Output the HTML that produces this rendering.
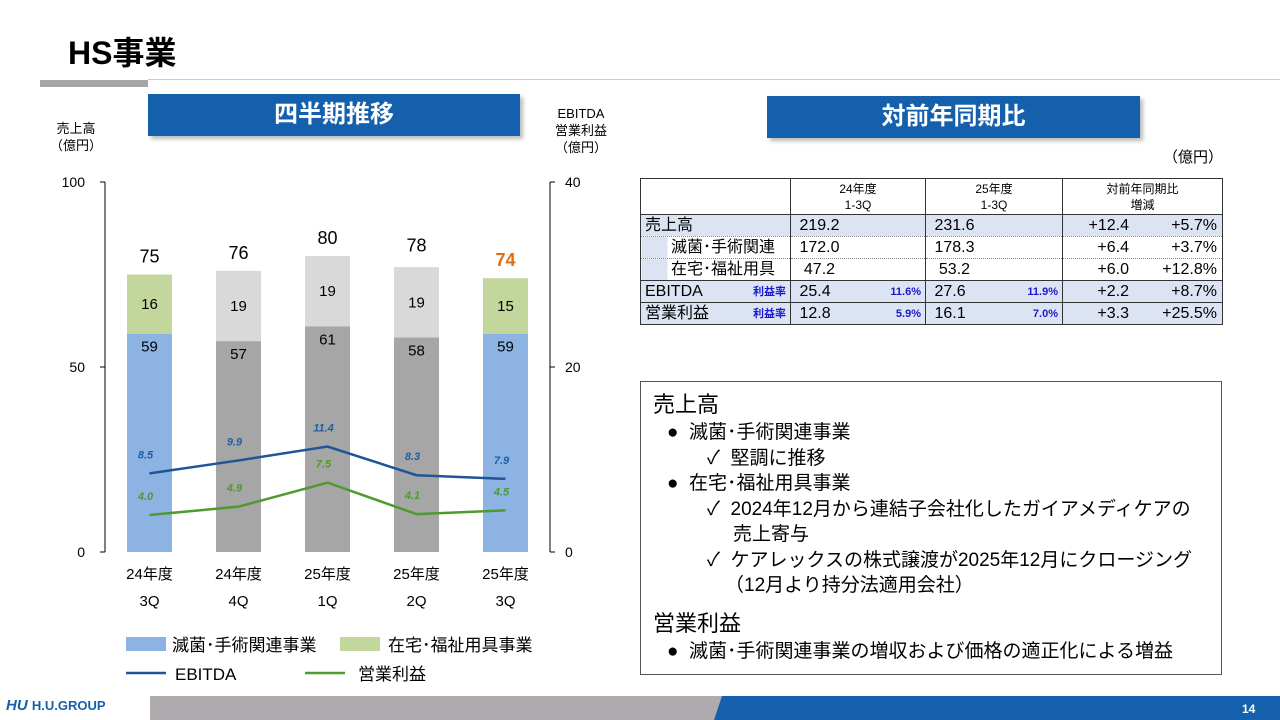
<!DOCTYPE html>
<html><head><meta charset="utf-8">
<style>
*{margin:0;padding:0;box-sizing:border-box}
body{width:1280px;height:720px;position:relative;background:#fff;font-family:"Liberation Sans","Noto Sans CJK JP",sans-serif;color:#000;overflow:hidden}
.a{position:absolute;white-space:nowrap}
.tb{position:absolute;background:#1560ad;color:#fff;font-weight:bold;font-size:24px;text-align:center;line-height:42px;box-shadow:3px 3px 4px #bbb}
table{border-collapse:collapse;font-size:16px;table-layout:fixed}
td{height:22px;line-height:20px;padding:0 4px;border-left:1px solid #333;border-right:1px solid #333;overflow:hidden}
.bl{background:#dce3f2}
.r{color:#1a1acc;font-weight:bold;font-size:11px}
</style></head><body>
<div class="a" style="left:68px;top:28px;font-size:32px;font-weight:bold">HS事業</div>
<div class="a" style="left:148px;top:79px;width:1132px;height:1px;background:#ccc"></div>
<div class="a" style="left:40px;top:80px;width:108px;height:7px;background:#a6a6a6"></div>

<div class="tb" style="left:148px;top:94px;width:372px;height:42px">四半期推移</div>
<div class="tb" style="left:767px;top:96px;width:373px;height:42px">対前年同期比</div>

<div class="a" style="left:50px;top:120px;font-size:13px;line-height:17px;text-align:center">売上高<br>（億円）</div>
<div class="a" style="left:555px;top:105px;font-size:13px;line-height:17px;text-align:center">EBITDA<br>営業利益<br>（億円）</div>

<svg class="a" style="left:0;top:0" width="640" height="700" id="chart"></svg>

<div class="a" style="left:1163px;top:146px;font-size:15px">（億円）</div>

<div class="a" style="left:640px;top:178px">
<table style="width:582px;border:1px solid #333">
<tr style="font-size:12px;text-align:center;border-bottom:1px solid #333"><td style="width:150px;height:36px"></td><td style="width:135px;line-height:16px">24年度<br>1-3Q</td><td style="width:137px;line-height:16px">25年度<br>1-3Q</td><td style="width:160px;line-height:16px">対前年同期比<br>増減</td></tr>
<tr class="bl" style="border-bottom:1px dotted #888"><td>売上高</td><td>&nbsp;219.2</td><td>&nbsp;231.6</td><td><span style="display:inline-block;width:62px;text-align:right">+12.4</span><span style="display:inline-block;width:88px;text-align:right">+5.7%</span></td></tr>
<tr style="border-bottom:1px dotted #888"><td style="padding-left:30px;background:linear-gradient(90deg,#dce3f2 26px,#fff 26px)">滅菌･手術関連</td><td>&nbsp;172.0</td><td>&nbsp;178.3</td><td><span style="display:inline-block;width:62px;text-align:right">+6.4</span><span style="display:inline-block;width:88px;text-align:right">+3.7%</span></td></tr>
<tr style="border-bottom:1px solid #333"><td style="padding-left:30px;background:linear-gradient(90deg,#dce3f2 26px,#fff 26px)">在宅･福祉用具</td><td>&nbsp;&nbsp;47.2</td><td>&nbsp;&nbsp;53.2</td><td><span style="display:inline-block;width:62px;text-align:right">+6.0</span><span style="display:inline-block;width:88px;text-align:right">+12.8%</span></td></tr>
<tr class="bl" style="border-bottom:1px solid #333"><td>EBITDA<span class="r" style="float:right">利益率</span></td><td>&nbsp;25.4<span class="r" style="float:right">11.6%</span></td><td>&nbsp;27.6<span class="r" style="float:right">11.9%</span></td><td><span style="display:inline-block;width:62px;text-align:right">+2.2</span><span style="display:inline-block;width:88px;text-align:right">+8.7%</span></td></tr>
<tr class="bl"><td>営業利益<span class="r" style="float:right">利益率</span></td><td>&nbsp;12.8<span class="r" style="float:right">5.9%</span></td><td>&nbsp;16.1<span class="r" style="float:right">7.0%</span></td><td><span style="display:inline-block;width:62px;text-align:right">+3.3</span><span style="display:inline-block;width:88px;text-align:right">+25.5%</span></td></tr>
</table></div>

<div class="a" style="left:640px;top:381px;width:582px;height:294px;border:1px solid #555;font-size:19px;line-height:25.5px;padding:8px 0 0 12px">
<div style="font-size:22px;line-height:30px">売上高</div>
<div style="padding-left:14px">●&nbsp; 滅菌･手術関連事業</div>
<div style="padding-left:54px">✓&nbsp; 堅調に推移</div>
<div style="padding-left:14px">●&nbsp; 在宅･福祉用具事業</div>
<div style="padding-left:54px">✓&nbsp; 2024年12月から連結子会社化したガイアメディケアの</div>
<div style="padding-left:80px">売上寄与</div>
<div style="padding-left:54px">✓&nbsp; ケアレックスの株式譲渡が2025年12月にクロージング</div>
<div style="padding-left:72px">（12月より持分法適用会社）</div>
<div style="font-size:22px;line-height:30px;margin-top:10px">営業利益</div>
<div style="padding-left:14px">●&nbsp; 滅菌･手術関連事業の増収および価格の適正化による増益</div>
</div>

<div class="a" style="left:150px;top:696px;width:580px;height:24px;background:#aeaaad"></div>
<div class="a" style="left:714px;top:696px;width:566px;height:24px;background:#1560ad;clip-path:polygon(8px 0,100% 0,100% 100%,0 100%)"></div>
<div class="a" style="left:1242px;top:702px;font-size:12px;color:#fff;font-weight:bold">14</div>
<div class="a" style="left:6px;top:697px;font-size:15px;font-weight:bold;color:#1560ad;font-style:italic">HU <span style="font-style:normal;font-size:13px">H.U.GROUP</span></div>

<script>
const categories=[["24年度","3Q"],["24年度","4Q"],["25年度","1Q"],["25年度","2Q"],["25年度","3Q"]];
const sterilization=[59,57,61,58,59];
const homecare=[16,19,19,19,15];
const totals=[75,76,80,78,74];
const ebitda=[8.5,9.9,11.4,8.3,7.9];
const opProfit=[4.0,4.9,7.5,4.1,4.5];
const leftTicks=[0,50,100];
const rightTicks=[0,20,40];
const highlight=[true,false,false,false,true];

const NS="http://www.w3.org/2000/svg";
const svg=document.getElementById('chart');
const x0=105,x1=550,y0=552,y1=182;
const yL=v=>y0-(y0-y1)*v/100;
const yR=v=>y0-(y0-y1)*v/40;
const xC=i=>x0+(x1-x0)*(i+0.5)/categories.length;
function mk(tag,attrs,name,txt){const e=document.createElementNS(NS,tag);for(const k in attrs)e.setAttribute(k,attrs[k]);


if(txt!==undefined)e.textContent=txt;svg.appendChild(e);return e;}
const F='font-family:"Liberation Sans","Noto Sans CJK JP",sans-serif';
mk('line',{x1:x0,y1:y1,x2:x0,y2:y0,stroke:'#000'},'left-axis');
mk('line',{x1:x1,y1:y1,x2:x1,y2:y0,stroke:'#000'},'right-axis');
leftTicks.forEach(t=>{mk('line',{x1:x0-5,y1:yL(t),x2:x0,y2:yL(t),stroke:'#000'},'left-tick');
mk('text',{x:x0-20,y:yL(t)+5,'text-anchor':'end','font-size':14,style:F},'left-tick-label',t);});
rightTicks.forEach(t=>{mk('line',{x1:x1,y1:yR(t),x2:x1+5,y2:yR(t),stroke:'#000'},'right-tick');
mk('text',{x:x1+15,y:yR(t)+5,'font-size':14,style:F},'right-tick-label',t);});
const bw=45;
categories.forEach((c,i)=>{const cx=xC(i);
const b1=highlight[i]?'#8db3e2':'#a6a6a6',b2=highlight[i]?'#c3d69b':'#d9d9d9';
mk('rect',{x:cx-bw/2,y:yL(sterilization[i]),width:bw,height:y0-yL(sterilization[i]),fill:b1},'bar-sterilization');
mk('rect',{x:cx-bw/2,y:yL(sterilization[i]+homecare[i]),width:bw,height:yL(sterilization[i])-yL(sterilization[i]+homecare[i]),fill:b2},'bar-homecare');
mk('text',{x:cx,y:yL(sterilization[i])+18,'text-anchor':'middle','font-size':15,style:F},'label-sterilization',sterilization[i]);
mk('text',{x:cx,y:(yL(sterilization[i])+yL(sterilization[i]+homecare[i]))/2+5,'text-anchor':'middle','font-size':15,style:F},'label-homecare',homecare[i]);
mk('text',{x:cx,y:yL(totals[i])-12,'text-anchor':'middle','font-size':18,'font-weight':i==4?'bold':'normal',fill:i==4?'#e36c09':'#000',style:F},'label-total',totals[i]);
mk('text',{x:cx,y:y0+27,'text-anchor':'middle','font-size':15,style:F},'x-label',c[0]);
mk('text',{x:cx,y:y0+54,'text-anchor':'middle','font-size':15,style:F},'x-label',c[1]);
mk('text',{x:cx-4,y:yR(ebitda[i])-15,'text-anchor':'middle','font-size':11,'font-weight':'bold','font-style':'italic',fill:'#1f5fa8',style:F},'label-ebitda',ebitda[i].toFixed(1));
mk('text',{x:cx-4,y:yR(opProfit[i])-15,'text-anchor':'middle','font-size':11,'font-weight':'bold','font-style':'italic',fill:'#4e9a2f',style:F},'label-op-profit',opProfit[i].toFixed(1));
});
mk('polyline',{points:ebitda.map((v,i)=>xC(i)+','+yR(v)).join(' '),fill:'none',stroke:'#1f5597','stroke-width':2.5},'line-ebitda');
mk('polyline',{points:opProfit.map((v,i)=>xC(i)+','+yR(v)).join(' '),fill:'none',stroke:'#4e9a2f','stroke-width':2.5},'line-op-profit');
mk('rect',{x:126,y:637,width:40,height:14,fill:'#8db3e2'},'legend-swatch-sterilization');
mk('text',{x:172,y:651,'font-size':17,style:F},'legend-sterilization','滅菌･手術関連事業');
mk('rect',{x:340,y:637,width:40,height:14,fill:'#c3d69b'},'legend-swatch-homecare');
mk('text',{x:388,y:651,'font-size':17,style:F},'legend-homecare','在宅･福祉用具事業');
mk('line',{x1:126,y1:673,x2:166,y2:673,stroke:'#1f5597','stroke-width':2.5},'legend-swatch-ebitda');
mk('text',{x:175,y:680,'font-size':17,style:F},'legend-ebitda','EBITDA');
mk('line',{x1:305,y1:673,x2:345,y2:673,stroke:'#4e9a2f','stroke-width':2.5},'legend-swatch-op-profit');
mk('text',{x:358,y:680,'font-size':17,style:F},'legend-op-profit','営業利益');
</script>
</body></html>
